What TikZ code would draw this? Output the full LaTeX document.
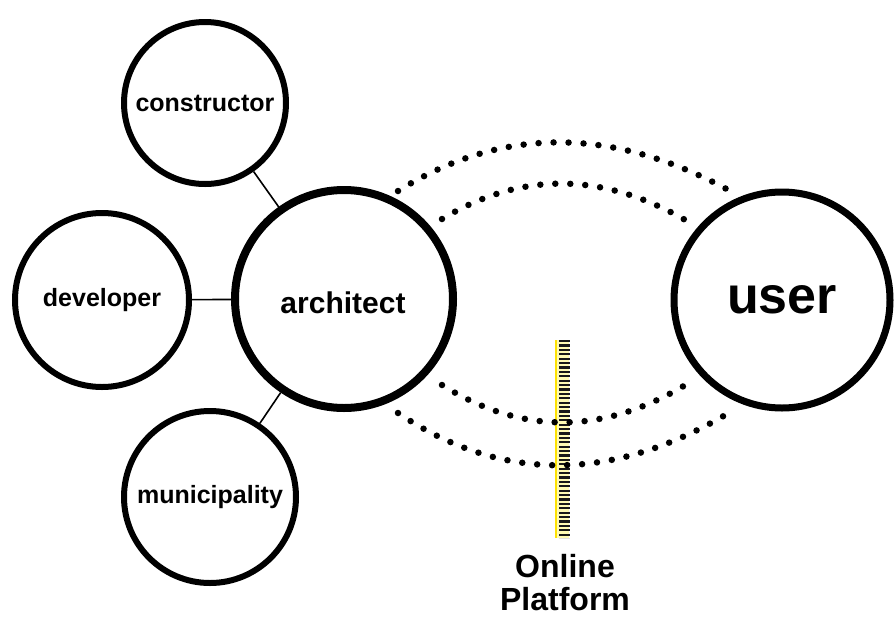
\documentclass[tikz,border=0pt]{standalone}
\usepackage{fontspec}
\setmainfont{Liberation Sans}
\begin{document}
\begin{tikzpicture}[x=1pt,y=-1pt,
  actor/.style={circle,draw=black,line width=6pt,inner sep=0pt,font=\bfseries\fontsize{25}{27}\selectfont},
  hub/.style={circle,draw=black,line width=8pt,inner sep=0pt},
  link/.style={draw=black,line width=1.6pt},
  dotline/.style={draw=black,line width=6.5pt,line cap=round,dash pattern=on 0pt off 15pt}]
\useasboundingbox (0,0) rectangle (894,619);

% stakeholders around the architect
\node[actor,minimum size=162pt] (constructor) at (205,103) {constructor};
\node[actor,minimum size=174pt] (developer) at (102,300) {developer};
\node[actor,minimum size=172pt] (municipality) at (210,497) {municipality};
\node[hub,minimum size=218pt] (architect) at (344,299) {};
\node[font=\bfseries\fontsize{30}{32}\selectfont] (architectlabel) at (343,303) {architect};
\node[hub,minimum size=216pt,line width=7pt,font=\bfseries\fontsize{52}{54}\selectfont] (user) at (782,300) {user};

\draw[link] (constructor) -- (architect);
\draw[link] (developer) -- (architect);
\draw[link] (municipality) -- (architect);

% online platform bar
\coordinate (bartop) at (563,340);
\coordinate (barbot) at (563,538);
\fill[yellow!30] ([xshift=-8pt]bartop) rectangle ([xshift=6pt]barbot);
\draw[yellow!85!orange,line width=2pt] ([xshift=-7pt]bartop) -- ([xshift=-7pt]barbot);
\draw[black!90,line width=11pt,dash pattern=on 2.2pt off 2.2pt] ([xshift=1pt]bartop) -- ([xshift=1pt]barbot);
\node[font=\bfseries\fontsize{32}{33}\selectfont,align=center,anchor=north] (platform) at (565,551) {Online\\Platform};

% dotted channels between architect and user
\coordinate (a1) at (398,191); \coordinate (u1) at (732,192);
\coordinate (a2) at (442,219); \coordinate (u2) at (687,221);
\coordinate (a3) at (442,385); \coordinate (u3) at (687,384);
\coordinate (a4) at (398,413); \coordinate (u4) at (732,411);
\draw[dotline] (a1) .. controls (502,126) and (613,126) .. (u1);
\draw[dotline] (a2) .. controls (522,171) and (603,172) .. (u2);
\draw[dotline] (a3) .. controls (522,435) and (603,435) .. (u3);
\draw[dotline] (a4) .. controls (502,483) and (613,483) .. (u4);
\end{tikzpicture}
\end{document}
